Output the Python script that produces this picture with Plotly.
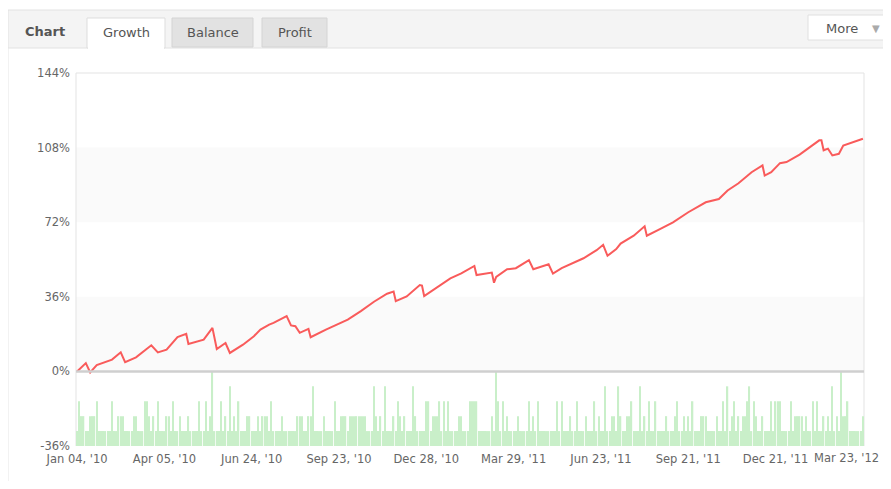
import plotly.graph_objects as go

# ---------------- data ----------------
x_tick_idx = [0, 40, 80, 120, 160, 200, 240, 280, 320, 360]
x_tick_text = ["Jan 04, '10", "Apr 05, '10", "Jun 24, '10", "Sep 23, '10", "Dec 28, '10",
               "Mar 29, '11", "Jun 23, '11", "Sep 21, '11", "Dec 21, '11", "Mar 23, '12"]
y_ticks = [-36, 0, 36, 72, 108, 144]
y_tick_text = ["-36%", "0%", "36%", "72%", "108%", "144%"]

growth_idx = [0, 4, 6, 9, 16, 20, 22, 27, 34, 37, 41, 46, 50, 51, 58, 62, 64, 68, 70, 76,
              81, 84, 88, 90, 96, 98, 100, 102, 106, 107, 114, 124, 130, 136, 142, 145, 146, 151, 157, 158,
              159, 166, 171, 176, 182, 183, 190, 191, 192, 197, 201, 207, 209, 216, 218, 222, 232, 238, 241, 243,
              247, 249, 255, 260, 261, 267, 273, 280, 288, 294, 298, 303, 309, 314, 315, 318, 322, 325, 331, 340,
              341, 342, 344, 346, 349, 351, 354, 359, 360]
growth_pct = [0.0, 4.0, -0.5, 3.0, 5.7, 9.2, 4.5, 6.8, 12.6, 9.2, 10.5, 16.6, 18.1, 13.2, 15.3, 21.0, 10.8, 13.7, 8.9, 12.9,
              17.0, 20.2, 22.6, 23.4, 26.7, 22.2, 21.8, 18.6, 20.5, 16.5, 20.2, 25.0, 29.1, 33.6, 37.5, 38.5, 33.9, 36.2, 41.7, 41.4,
              36.4, 41.2, 44.9, 47.3, 50.9, 46.5, 47.7, 42.8, 45.6, 49.3, 49.8, 53.7, 49.3, 51.7, 47.2, 49.8, 54.6, 58.5, 61.1, 55.8,
              59.0, 61.7, 65.5, 70.0, 65.5, 68.7, 71.9, 76.8, 81.6, 83.2, 87.3, 90.8, 96.1, 99.4, 94.5, 96.1, 100.5, 101.0, 104.6, 111.5,
              111.5, 106.7, 107.5, 104.2, 105.0, 109.0, 110.2, 112.0, 112.3]

trade_counts = [
    1, 3, 2, 2, 1, 1, 2, 2, 2, 3, 1, 1, 1, 1, 1, 1, 3, 1, 1, 2,
    2, 2, 1, 1, 1, 1, 2, 2, 1, 1, 1, 3, 3, 2, 1, 2, 1, 3, 1, 1,
    1, 2, 2, 1, 3, 1, 1, 2, 1, 1, 1, 2, 1, 1, 1, 1, 3, 1, 1, 3,
    1, 2, 5, 1, 1, 1, 3, 1, 2, 1, 4, 1, 2, 1, 3, 1, 1, 1, 2, 2,
    1, 1, 1, 2, 1, 2, 2, 2, 1, 3, 1, 1, 1, 1, 2, 1, 1, 1, 1, 1,
    1, 2, 2, 2, 1, 1, 2, 2, 4, 1, 1, 1, 1, 2, 1, 1, 1, 1, 3, 1,
    1, 2, 2, 2, 1, 2, 2, 2, 2, 2, 2, 2, 2, 1, 1, 1, 4, 2, 1, 2,
    1, 4, 1, 1, 1, 2, 1, 3, 2, 1, 2, 1, 1, 1, 4, 2, 1, 1, 1, 1,
    3, 3, 1, 2, 2, 2, 3, 1, 3, 1, 3, 1, 1, 1, 1, 2, 2, 1, 1, 1,
    3, 3, 3, 3, 1, 1, 1, 1, 1, 1, 2, 1, 5, 3, 1, 3, 1, 2, 1, 1,
    1, 1, 2, 1, 1, 1, 1, 3, 1, 2, 1, 3, 1, 1, 1, 1, 1, 1, 1, 1,
    3, 1, 3, 1, 1, 1, 2, 1, 1, 3, 1, 1, 1, 2, 1, 1, 1, 3, 1, 2,
    1, 1, 4, 1, 1, 2, 2, 1, 4, 2, 1, 1, 2, 2, 3, 1, 1, 1, 4, 1,
    2, 1, 3, 1, 1, 3, 1, 1, 1, 1, 2, 1, 1, 1, 2, 3, 1, 1, 2, 1,
    2, 1, 3, 1, 1, 1, 2, 2, 2, 1, 1, 1, 1, 2, 1, 1, 3, 1, 4, 1,
    2, 3, 1, 2, 1, 2, 2, 3, 4, 1, 3, 2, 1, 1, 2, 1, 1, 1, 3, 1,
    3, 3, 3, 1, 1, 1, 1, 3, 1, 2, 2, 2, 2, 1, 2, 1, 1, 3, 1, 3,
    1, 1, 2, 1, 2, 1, 4, 1, 2, 1, 5, 2, 2, 3, 1, 1, 1, 1, 1, 1,
    2,
]
trade_idx = list(range(len(trade_counts)))

tab_labels = ["Growth", "Balance", "Profit"]

# ---------------- layout helpers ----------------
# the page body has an 8px margin; keep the figure inside the window so nothing overflows
OFF = 8
W, H = 891 - 2 * OFF, 489 - 2 * OFF
L, R, T, B = 76 - OFF, 864 - OFF, 73 - OFF, 446 - OFF
FONT = "Verdana, DejaVu Sans, sans-serif"
TICKFONT = dict(family=FONT, size=11.5, color="#666666")


def px(x):
    return (x - OFF - L) / (R - L)


def py(y):
    return (B - (y - OFF)) / (B - T)


fig = go.Figure()

fig.add_trace(go.Bar(
    x=trade_idx, y=trade_counts, yaxis="y2",
    marker=dict(color="#c9efc9", line=dict(width=0)),
    hoverinfo="skip", showlegend=False,
))

fig.add_trace(go.Scatter(
    x=growth_idx, y=growth_pct, mode="lines",
    line=dict(color="#f95b5b", width=2),
    hoverinfo="skip", showlegend=False,
))

shapes = []
# alternating plot bands
for y0, y1 in [(0, 36), (72, 108)]:
    shapes.append(dict(type="rect", xref="paper", yref="y", x0=0, x1=1, y0=y0, y1=y1,
                       fillcolor="#fafafa", line=dict(width=0), layer="below"))
# plot frame (top, left, right)
shapes.append(dict(type="line", xref="paper", yref="paper", x0=0, x1=1, y0=1, y1=1,
                   line=dict(color="#e3e3e3", width=1), layer="below"))
shapes.append(dict(type="line", xref="paper", yref="paper", x0=0, x1=0, y0=0, y1=1,
                   line=dict(color="#e3e3e3", width=1), layer="below"))
shapes.append(dict(type="line", xref="paper", yref="paper", x0=1, x1=1, y0=0, y1=1,
                   line=dict(color="#e3e3e3", width=1), layer="below"))
# zero line
shapes.append(dict(type="line", xref="paper", yref="y", x0=0, x1=1, y0=0, y1=0,
                   line=dict(color="#cfcfcf", width=2.5), layer="above"))

# panel header
shapes.append(dict(type="rect", xref="paper", yref="paper", x0=px(8), x1=px(900), y0=py(10), y1=py(48),
                   fillcolor="#f4f4f4", line=dict(color="#e2e2e2", width=1)))
shapes.append(dict(type="line", xref="paper", yref="paper", x0=px(8), x1=px(8), y0=py(48), y1=py(495),
                   line=dict(color="#e6e6e6", width=1)))
# tabs
shapes.append(dict(type="rect", xref="paper", yref="paper", x0=px(87), x1=px(165), y0=py(18), y1=py(48),
                   fillcolor="#ffffff", line=dict(color="#dddddd", width=1)))
shapes.append(dict(type="line", xref="paper", yref="paper", x0=px(88), x1=px(164), y0=py(48), y1=py(48),
                   line=dict(color="#ffffff", width=2)))
for x0, x1 in [(172, 253), (262, 327)]:
    shapes.append(dict(type="rect", xref="paper", yref="paper", x0=px(x0), x1=px(x1), y0=py(18), y1=py(47),
                       fillcolor="#e2e2e2", line=dict(color="#d4d4d4", width=1)))
# More button
shapes.append(dict(type="rect", xref="paper", yref="paper", x0=px(808), x1=px(900), y0=py(15), y1=py(40),
                   fillcolor="#ffffff", line=dict(color="#e0e0e0", width=1)))

annotations = [
    dict(text="<b>Chart</b>", x=px(45), y=py(32), xref="paper", yref="paper", showarrow=False,
         font=dict(family=FONT, size=13, color="#555555"), xanchor="center", yanchor="middle"),
    dict(text=tab_labels[0], x=px(126), y=py(33), xref="paper", yref="paper", showarrow=False,
         font=dict(family=FONT, size=13, color="#555555"), xanchor="center", yanchor="middle"),
    dict(text=tab_labels[1], x=px(213), y=py(33), xref="paper", yref="paper", showarrow=False,
         font=dict(family=FONT, size=13, color="#555555"), xanchor="center", yanchor="middle"),
    dict(text=tab_labels[2], x=px(295), y=py(33), xref="paper", yref="paper", showarrow=False,
         font=dict(family=FONT, size=13, color="#555555"), xanchor="center", yanchor="middle"),
    dict(text="More", x=px(842), y=py(29), xref="paper", yref="paper", showarrow=False,
         font=dict(family=FONT, size=13, color="#555555"), xanchor="center", yanchor="middle"),
    dict(text="▼", x=px(876), y=py(29), xref="paper", yref="paper", showarrow=False,
         font=dict(family=FONT, size=10, color="#aaaaaa"), xanchor="center", yanchor="middle"),
    # last date label: drawn at its tick but pushed left so it stays inside the picture
    dict(text=x_tick_text[-1], x=x_tick_idx[-1], xref="x", y=py(458), yref="paper",
         showarrow=False, xanchor="right", yanchor="middle", xshift=18, font=TICKFONT),
]

fig.update_layout(
    width=W, height=H,
    margin=dict(l=L, r=W - R, t=T, b=H - B, pad=0, autoexpand=False),
    paper_bgcolor="#ffffff", plot_bgcolor="#ffffff",
    bargap=0.4,
    showlegend=False,
    shapes=shapes,
    annotations=annotations,
    xaxis=dict(range=[-0.5, 360.5], tickmode="array", tickvals=x_tick_idx[:-1], ticktext=x_tick_text[:-1],
               showgrid=False, zeroline=False, showline=False, ticks="", automargin=False,
               ticklabelstandoff=4, tickfont=TICKFONT, fixedrange=True),
    yaxis=dict(range=[-36, 144], tickmode="array", tickvals=y_ticks, ticktext=y_tick_text,
               showgrid=False, zeroline=False, showline=False, ticks="", automargin=False,
               ticklabelstandoff=5, tickfont=TICKFONT, fixedrange=True),
    yaxis2=dict(range=[0, 25], overlaying="y", visible=False, fixedrange=True),
)

fig.write_html("out.html")
